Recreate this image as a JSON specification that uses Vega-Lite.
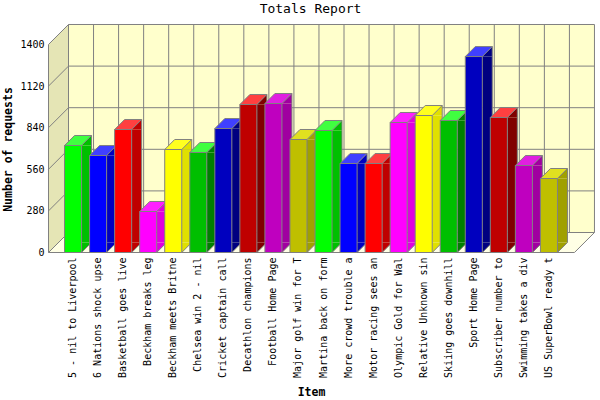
{
"$schema":"https://vega.github.io/schema/vega-lite/v6.json",
"width":552,"height":228,"autosize":"none",
"padding":{"left":48,"top":24,"right":0,"bottom":148},
"background":"#ffffff",
"title":{"text":"Totals Report","font":"DejaVu Sans Mono","fontSize":13,"fontWeight":"normal","color":"#000000","anchor":"middle","dx":-13.5,"offset":8},
"config":{"view":{"stroke":null},"axis":{"labelFont":"DejaVu Sans Mono","titleFont":"DejaVu Sans Mono","labelColor":"#000000","titleColor":"#000000"},
"axisY":{"grid":false,"domain":false,"ticks":false,"labelFontSize":10,"labelPadding":4,"titleFontSize":11.5,"titleFontWeight":"bold","titleX":-40,"titleY":125,"titleAlign":"center","titleBaseline":"middle"}},
"datasets":{
"bars":[
{"Item":"5 - nil to Liverpool","Requests":720.2},
{"Item":"6 Nations shock upse","Requests":652.9},
{"Item":"Basketball goes live","Requests":827.9},
{"Item":"Beckham breaks leg","Requests":276},
{"Item":"Beckham meets Britne","Requests":693.3},
{"Item":"Chelsea win 2 - nil","Requests":673.1},
{"Item":"Cricket captain call","Requests":834.6},
{"Item":"Decathlon champions","Requests":996.2},
{"Item":"Football Home Page","Requests":1002.9},
{"Item":"Major golf win for T","Requests":760.6},
{"Item":"Martina back on form","Requests":821.2},
{"Item":"More crowd trouble a","Requests":599},
{"Item":"Motor racing sees an","Requests":599},
{"Item":"Olympic Gold for Wal","Requests":875},
{"Item":"Relative Unknown sin","Requests":922},
{"Item":"Skiing goes downhill","Requests":888.5},
{"Item":"Sport Home Page","Requests":1319},
{"Item":"Subscriber number to","Requests":908.7},
{"Item":"Swimming takes a div","Requests":585.6},
{"Item":"US SuperBowl ready t","Requests":498}
],
"levels":[{"v":0},{"v":280},{"v":560},{"v":840},{"v":1120},{"v":1400}],
"slots":[{"s":0},{"s":1},{"s":2},{"s":3},{"s":4},{"s":5},{"s":6},{"s":7},{"s":8},{"s":9},{"s":10},{"s":11},{"s":12},{"s":13},{"s":14},{"s":15},{"s":16},{"s":17},{"s":18},{"s":19},{"s":20},{"s":21}],
"sideWall":[{"s":0,"lo":0,"hi":1400},{"s":0.8,"lo":134.6,"hi":1534.6}],
"floor":[{"s":0,"lo":0,"hi":0},{"s":0.8,"lo":0,"hi":134.6},{"s":21,"lo":0,"hi":134.6},{"s":21.8,"lo":134.6,"hi":134.6}],
"one":[{"k":1}]
},
"layer":[
{"data":{"name":"one"},"mark":{"type":"rect","fill":"#FFFFCC","xOffset":20,"x2Offset":20,"yOffset":-20,"y2Offset":-20},
 "encoding":{"x":{"datum":0,"type":"quantitative","axis":null,"scale":{"domain":[0,22],"range":[0.5,551.5]}},"x2":{"datum":21},
 "y":{"datum":0,"type":"quantitative","title":"Number of requests","axis":{"values":[0,280,560,840,1120,1400],"format":"d"},"scale":{"domain":[0,1534.615],"nice":false,"range":[228.5,0.5]}},"y2":{"datum":1400}}},
{"data":{"name":"sideWall"},"mark":{"type":"area","fill":"#E5E5B5"},
 "encoding":{"x":{"field":"s","type":"quantitative","axis":null,"scale":{"domain":[0,22],"range":[0.5,551.5]}},"y":{"field":"lo","type":"quantitative","title":"Number of requests","stack":null,"scale":{"domain":[0,1534.615],"nice":false,"range":[228.5,0.5]}},"y2":{"field":"hi"}}},
{"data":{"name":"floor"},"mark":{"type":"area","fill":"#FFFFE5"},
 "encoding":{"x":{"field":"s","type":"quantitative","axis":null,"scale":{"domain":[0,22],"range":[0.5,551.5]}},"y":{"field":"lo","type":"quantitative","title":"Number of requests","stack":null,"scale":{"domain":[0,1534.615],"nice":false,"range":[228.5,0.5]}},"y2":{"field":"hi"}}},
{"data":{"name":"slots"},"mark":{"type":"rule","stroke":"#808080","strokeWidth":1,"xOffset":20,"yOffset":-20,"y2Offset":-20},
 "encoding":{"x":{"field":"s","type":"quantitative","axis":null,"scale":{"domain":[0,22],"range":[0.5,551.5]}},"y":{"datum":0,"type":"quantitative","title":"Number of requests","scale":{"domain":[0,1534.615],"nice":false,"range":[228.5,0.5]}},"y2":{"datum":1400}}},
{"data":{"name":"levels"},"mark":{"type":"rule","stroke":"#808080","strokeWidth":1,"xOffset":20,"x2Offset":20,"yOffset":-20,"y2Offset":-20},
 "encoding":{"x":{"datum":0,"type":"quantitative","axis":null,"scale":{"domain":[0,22],"range":[0.5,551.5]}},"x2":{"datum":21},"y":{"field":"v","type":"quantitative","title":"Number of requests","scale":{"domain":[0,1534.615],"nice":false,"range":[228.5,0.5]}},"y2":{"field":"v"}}},
{"data":{"name":"levels"},"mark":{"type":"rule","stroke":"#808080","strokeWidth":1,"x2Offset":20,"y2Offset":-20},
 "encoding":{"x":{"datum":0,"type":"quantitative","axis":null,"scale":{"domain":[0,22],"range":[0.5,551.5]}},"x2":{"datum":0},"y":{"field":"v","type":"quantitative","title":"Number of requests","scale":{"domain":[0,1534.615],"nice":false,"range":[228.5,0.5]}},"y2":{"field":"v"}}},
{"data":{"name":"one"},"mark":{"type":"rule","stroke":"#808080","strokeWidth":1},
 "encoding":{"x":{"datum":0,"type":"quantitative","axis":null,"scale":{"domain":[0,22],"range":[0.5,551.5]}},"y":{"datum":0,"type":"quantitative","title":"Number of requests","scale":{"domain":[0,1534.615],"nice":false,"range":[228.5,0.5]}},"y2":{"datum":1400}}},
{"data":{"name":"one"},"mark":{"type":"rule","stroke":"#808080","strokeWidth":1},
 "encoding":{"x":{"datum":0,"type":"quantitative","axis":null,"scale":{"domain":[0,22],"range":[0.5,551.5]}},"x2":{"datum":21},"y":{"datum":0,"type":"quantitative","title":"Number of requests","scale":{"domain":[0,1534.615],"nice":false,"range":[228.5,0.5]}}}},
{"data":{"name":"one"},"mark":{"type":"rule","stroke":"#808080","strokeWidth":1,"x2Offset":20,"y2Offset":-20},
 "encoding":{"x":{"datum":21,"type":"quantitative","axis":null,"scale":{"domain":[0,22],"range":[0.5,551.5]}},"x2":{"datum":21},"y":{"datum":0,"type":"quantitative","title":"Number of requests","scale":{"domain":[0,1534.615],"nice":false,"range":[228.5,0.5]}},"y2":{"datum":0}}},
{"data":{"name":"bars"},"mark":{"type":"bar","width":10,"xOffset":13.5,"x2Offset":13.5,"y2Offset":-10},
 "encoding":{"x":{"field":"Item","type":"nominal","sort":null,"axis":null,"scale":{"type":"band","range":[0,526],"paddingInner":0.32,"paddingOuter":0.66}},"y":{"field":"Requests","type":"quantitative","title":"Number of requests","stack":null,"scale":{"domain":[0,1534.615],"nice":false,"range":[228.5,0.5]}},"y2":{"datum":0},
 "fill":{"field":"Item","type":"nominal","sort":null,"legend":null,"scale":{"range":["#00BF00","#0000BF","#BF0000","#E000E0","#E0E000","#008000","#000080","#800000","#A000A0","#A0A000"]}}}},
{"data":{"name":"bars"},"mark":{"type":"point","filled":true,"opacity":1,"size":4,"strokeWidth":0,"shape":"M8.5 0L18.5 -10L18.5 0Z"},
 "encoding":{"x":{"field":"Item","type":"nominal","sort":null,"axis":null,"scale":{"type":"band","range":[0,526],"paddingInner":0.32,"paddingOuter":0.66}},"y":{"field":"Requests","type":"quantitative","title":"Number of requests","stack":null,"scale":{"domain":[0,1534.615],"nice":false,"range":[228.5,0.5]}},
 "fill":{"field":"Item","type":"nominal","sort":null,"legend":null,"scale":{"range":["#00BF00","#0000BF","#BF0000","#E000E0","#E0E000","#008000","#000080","#800000","#A000A0","#A0A000"]}}}},
{"data":{"name":"bars"},"mark":{"type":"point","filled":true,"opacity":1,"size":4,"strokeWidth":0,"shape":"M8.5 0L18.5 -10L8.5 -10Z"},
 "encoding":{"x":{"field":"Item","type":"nominal","sort":null,"axis":null,"scale":{"type":"band","range":[0,526],"paddingInner":0.32,"paddingOuter":0.66}},"y":{"datum":0,"type":"quantitative","title":"Number of requests","scale":{"domain":[0,1534.615],"nice":false,"range":[228.5,0.5]}},
 "fill":{"field":"Item","type":"nominal","sort":null,"legend":null,"scale":{"range":["#00BF00","#0000BF","#BF0000","#E000E0","#E0E000","#008000","#000080","#800000","#A000A0","#A0A000"]}}}},
{"data":{"name":"bars"},"mark":{"type":"point","filled":false,"fill":null,"opacity":1,"size":4,"strokeWidth":1,"stroke":"#808080","shape":"M8.5 0L18.5 -10"},
 "encoding":{"x":{"field":"Item","type":"nominal","sort":null,"axis":null,"scale":{"type":"band","range":[0,526],"paddingInner":0.32,"paddingOuter":0.66}},"y":{"datum":0,"type":"quantitative","title":"Number of requests","scale":{"domain":[0,1534.615],"nice":false,"range":[228.5,0.5]}}}},
{"data":{"name":"bars"},"mark":{"type":"rule","stroke":"#808080","strokeWidth":1,"xOffset":18.5,"yOffset":-10,"y2Offset":-10},
 "encoding":{"x":{"field":"Item","type":"nominal","sort":null,"axis":null,"scale":{"type":"band","range":[0,526],"paddingInner":0.32,"paddingOuter":0.66}},"y":{"field":"Requests","type":"quantitative","title":"Number of requests","scale":{"domain":[0,1534.615],"nice":false,"range":[228.5,0.5]}},"y2":{"datum":0}}},
{"data":{"name":"bars"},"mark":{"type":"point","filled":true,"opacity":1,"size":4,"stroke":"#808080","strokeWidth":1,"shape":"M-8.5 0L1.5 -10L18.5 -10L8.5 0Z"},
 "encoding":{"x":{"field":"Item","type":"nominal","sort":null,"axis":null,"scale":{"type":"band","range":[0,526],"paddingInner":0.32,"paddingOuter":0.66}},"y":{"field":"Requests","type":"quantitative","title":"Number of requests","stack":null,"scale":{"domain":[0,1534.615],"nice":false,"range":[228.5,0.5]}},
 "fill":{"field":"Item","type":"nominal","sort":null,"legend":null,"scale":{"range":["#40FF40","#4040FF","#FF4040","#FF20FF","#FFFF20","#40FF40","#4040FF","#FF4040","#E020E0","#E0E020"]}}}},
{"data":{"name":"bars"},"mark":{"type":"bar","stroke":"#808080","strokeWidth":1},
 "encoding":{"x":{"field":"Item","type":"nominal","sort":null,"scale":{"type":"band","range":[0,526],"paddingInner":0.32,"paddingOuter":0.66},
   "axis":{"labelAngle":-90,"labelFontSize":10,"labelPadding":5,"labelLimit":300,"labelOverlap":false,"ticks":false,"domain":false,"grid":false,"title":"Item","titleFontSize":11.5,"titleFontWeight":"bold","titleX":263,"titleY":140,"titleAlign":"center","titleBaseline":"middle"}},
 "y":{"field":"Requests","type":"quantitative","title":"Number of requests","stack":null,"scale":{"domain":[0,1534.615],"nice":false,"range":[228.5,0.5]}},
 "fill":{"field":"Item","type":"nominal","sort":null,"legend":null,"scale":{"range":["#00FF00","#0000FF","#FF0000","#FF00FF","#FFFF00","#00BF00","#0000BF","#BF0000","#BF00BF","#BFBF00"]}}}}
],
"resolve":{"scale":{"x":"independent","fill":"independent"},"axis":{"x":"independent"}}
}
